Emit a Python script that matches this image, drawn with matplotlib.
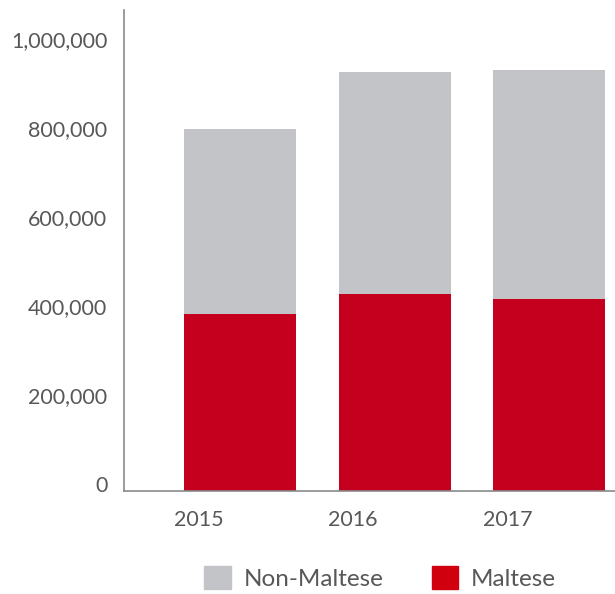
import matplotlib.pyplot as plt
import matplotlib.patches as mpatches
from matplotlib.transforms import ScaledTranslation
from matplotlib.ticker import FuncFormatter

years = ["2015", "2016", "2017"]
maltese = [398000, 443000, 431000]
total = [813000, 942000, 946000]
non_maltese = [t - m for t, m in zip(total, maltese)]

RED = "#C4001E"
RED_KEY = "#D0000F"
GREY = "#C3C4C7"
TEXT = "#585858"

plt.rcParams["font.family"] = ["Lato", "DejaVu Sans"]

fig = plt.figure(figsize=(6.15, 5.94), dpi=100)
ax = fig.add_axes([124 / 615, 103 / 594, 491 / 615, 481 / 594])

x = list(range(len(years)))
ax.bar(x, maltese, width=0.725, color=RED, zorder=2)
ax.bar(x, non_maltese, width=0.725, bottom=maltese, color=GREY, zorder=2)

ax.set_xlim(-0.751, 2.427)
ax.set_ylim(0, 1081000)

ax.set_yticks(range(0, 1000001, 200000))
ax.yaxis.set_major_formatter(FuncFormatter(lambda v, p: f"{int(v):,}"))
ax.set_xticks([i - 0.27 for i in x])
ax.set_xticklabels(years)

ax.tick_params(axis="y", length=0, pad=12, labelsize=15.5, labelcolor=TEXT)
ax.tick_params(axis="x", length=0, pad=14, labelsize=15.5, labelcolor=TEXT)
for lbl in ax.get_yticklabels():
    lbl.set_transform(lbl.get_transform() + ScaledTranslation(0, 7 / 100, fig.dpi_scale_trans))

for side in ("top", "right"):
    ax.spines[side].set_visible(False)
for side in ("left", "bottom"):
    ax.spines[side].set_color("#8a8a8a")
    ax.spines[side].set_linewidth(1.2)

handles = [
    mpatches.Patch(color=GREY, label="Non-Maltese"),
    mpatches.Patch(color=RED_KEY, label="Maltese"),
]
fig.legend(
    handles=handles,
    loc="center",
    bbox_to_anchor=(380 / 615, 16 / 594),
    ncol=2,
    frameon=False,
    fontsize=17.5,
    handlelength=1.1,
    handleheight=1.1,
    handletextpad=0.5,
    columnspacing=2.0,
    labelcolor=TEXT,
)

fig.savefig("out.png", dpi=100)
